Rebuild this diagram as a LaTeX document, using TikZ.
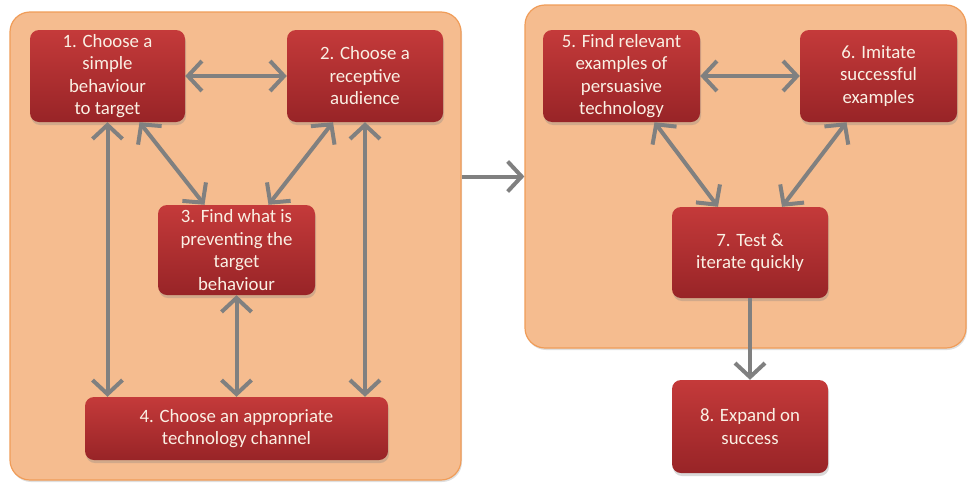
\documentclass[tikz,border=0pt]{standalone}
\usepackage{fontspec}
\setmainfont{Carlito}
\usetikzlibrary{arrows.meta,shadows}
\definecolor{brickred}{RGB}{196, 58, 58}
\definecolor{darkbrick}{RGB}{152, 36, 39}
\definecolor{peach}{RGB}{245, 188, 143}
\definecolor{tangerine}{RGB}{240, 156, 88}
\definecolor{slate}{RGB}{128, 128, 128}
\definecolor{cream}{RGB}{250, 240, 228}

\tikzset{
  panel/.style={draw=tangerine, line width=1.2pt, fill=peach, rounded corners=20pt,
                drop shadow={shadow xshift=1pt, shadow yshift=-2pt, opacity=0.25}},
  stepbox/.style={rounded corners=9pt, top color=brickred, bottom color=darkbrick,
                  text=cream, align=center, inner sep=0pt,
                  font=\fontsize{18.8}{22.5}\selectfont,
                  drop shadow={shadow xshift=1pt, shadow yshift=-3pt, opacity=0.3}},
  link/.style={slate, line width=4pt, {Straight Barb[length=14pt,width=30pt]}-{Straight Barb[length=14pt,width=30pt]}},
  onelink/.style={slate, line width=4pt, -{Straight Barb[length=14pt,width=30pt]}}
}

\begin{document}
\begin{tikzpicture}[x=1pt, y=-1pt]
            \useasboundingbox (0,0) rectangle (968,482);
            % Panels
            \node[panel, minimum width=451pt, minimum height=468pt] (leftpanel)  at (235.5, 246.0) {};
            \node[panel, minimum width=441pt, minimum height=343pt] (rightpanel) at (745.5, 176.5) {};
            % Steps, first phase
            \node[stepbox, minimum width=155pt, minimum height=92pt] (choose)    at (107.5,  76.0) {1. Choose a\\simple\\behaviour\\to target};
            \node[stepbox, minimum width=156pt, minimum height=92pt] (audience)  at (365.0,  76.0) {2. Choose a\\receptive\\audience};
            \node[stepbox, minimum width=157pt, minimum height=90pt] (obstacle)  at (236.5, 250.0) {3. Find what is\\preventing the\\target\\behaviour};
            \node[stepbox, minimum width=303pt, minimum height=63pt] (channel)   at (236.5, 428.5) {4. Choose an appropriate\\technology channel};
            % Steps, second phase
            \node[stepbox, minimum width=157pt, minimum height=92pt] (examples)  at (621.5,  76.0) {5. Find relevant\\examples of\\persuasive\\technology};
            \node[stepbox, minimum width=157pt, minimum height=92pt] (imitate)   at (878.5,  76.0) {6. Imitate\\successful\\examples};
            \node[stepbox, minimum width=156pt, minimum height=91pt] (iterate)   at (750.0, 252.5) {7. Test \&\\iterate quickly};
            \node[stepbox, minimum width=156pt, minimum height=93pt] (expand)    at (750.0, 426.5) {8. Expand on\\success};
            % Links inside left panel
            \draw[link] (choose.east) -- (audience.west);
            \draw[link] (choose.south) -- (choose.south |- channel.north);
            \draw[link] (audience.south) -- (audience.south |- channel.north);
            \draw[link] ([xshift=32pt]choose.south) -- ([xshift=-32pt]obstacle.north);
            \draw[link] ([xshift=-32pt]audience.south) -- ([xshift=32pt]obstacle.north);
            \draw[link] (obstacle.south) -- (channel.north);
            % Between panels
            \draw[onelink] (leftpanel.east |- rightpanel.west) -- (rightpanel.west);
            % Links inside right panel
            \draw[link] (examples.east) -- (imitate.west);
            \draw[link] ([xshift=33pt]examples.south) -- ([xshift=-32pt]iterate.north);
            \draw[link] ([xshift=-32pt]imitate.south) -- ([xshift=32pt]iterate.north);
            \draw[onelink] (iterate.south) -- (expand.north);
        \end{tikzpicture}
\end{document}
